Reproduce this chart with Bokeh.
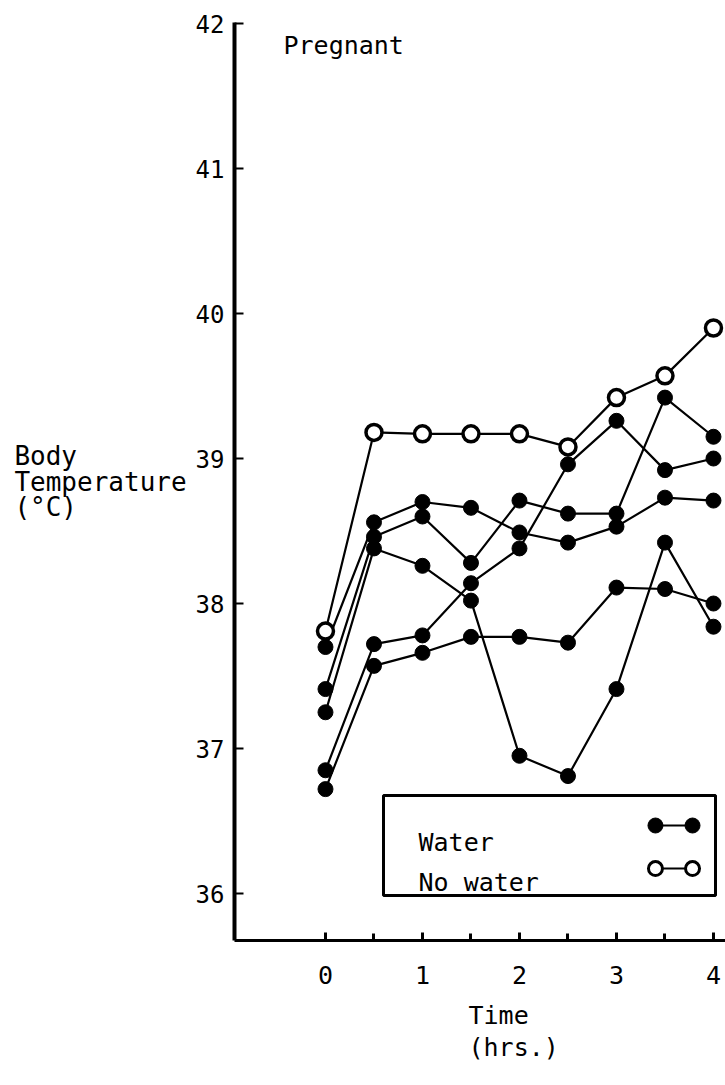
from bokeh.plotting import figure
from bokeh.models import Label, BoxAnnotation, FixedTicker, Title
from bokeh.embed import file_html
from bokeh.resources import INLINE

# ---- data ----
hours = [0, 0.5, 1, 1.5, 2, 2.5, 3, 3.5, 4]
water_a = [37.70, 38.56, 38.70, 38.66, 38.49, 38.42, 38.53, 38.73, 38.71]
water_b = [37.41, 38.46, 38.60, 38.28, 38.71, 38.62, 38.62, 39.42, 39.15]
water_c = [37.25, 38.38, 38.26, 38.02, 36.95, 36.81, 37.41, 38.42, 37.84]
water_d = [36.85, 37.72, 37.78, 38.14, 38.38, 38.96, 39.26, 38.92, 39.00]
water_e = [36.72, 37.57, 37.66, 37.77, 37.77, 37.73, 38.11, 38.10, 38.00]
no_water = [37.81, 39.18, 39.17, 39.17, 39.17, 39.08, 39.42, 39.57, 39.90]

y_ticks = [36, 37, 38, 39, 40, 41, 42]
x_major_ticks = [0, 1, 2, 3, 4]
x_minor_ticks = [0.5, 1.5, 2.5, 3.5]

title_text = "Pregnant"
y_label_lines = ["Body", "Temperature", "(°C)"]
x_label_lines = ["Time", "(hrs.)"]
legend_labels = ["Water", "No water"]

FONT = "DejaVu Sans Mono"

# left-align the lines of the (right-anchored) horizontal axis label by
# padding them with no-break spaces (monospaced font)
_w = max(len(s) for s in y_label_lines)
y_label_text = "\n".join(s + "\u00a0" * (_w - len(s)) for s in y_label_lines)

p = figure(width=725, height=1085, output_backend="svg", toolbar_location=None,
           x_range=(-0.938, 4.124), y_range=(35.676, 42.007),
           min_border_left=234, min_border_right=0, min_border_top=22,
           min_border_bottom=145)
p.outline_line_color = None
p.grid.visible = False
p.background_fill_color = "white"

# axes
p.yaxis.ticker = FixedTicker(ticks=y_ticks)
p.yaxis.axis_line_width = 4
p.yaxis.major_tick_in = 9
p.yaxis.major_tick_out = 0
p.yaxis.major_tick_line_width = 2
p.yaxis.minor_tick_line_color = None
p.yaxis.major_label_standoff = 10
p.yaxis.major_label_text_font = FONT
p.yaxis.major_label_text_font_size = "24px"
p.yaxis.major_label_text_color = "black"
p.yaxis.axis_label = y_label_text
p.yaxis.axis_label_orientation = "horizontal"
p.yaxis.axis_label_text_font = FONT
p.yaxis.axis_label_text_font_size = "26px"
p.yaxis.axis_label_text_font_style = "normal"
p.yaxis.axis_label_text_line_height = 0.85
p.yaxis.axis_label_text_color = "black"
p.yaxis.axis_label_standoff = 6

p.xaxis.ticker = FixedTicker(ticks=x_major_ticks, minor_ticks=x_minor_ticks)
p.xaxis.axis_line_width = 3
p.xaxis.major_tick_in = 8
p.xaxis.major_tick_out = 0
p.xaxis.major_tick_line_width = 3
p.xaxis.minor_tick_in = 7
p.xaxis.minor_tick_out = 0
p.xaxis.minor_tick_line_width = 3
p.xaxis.minor_tick_line_color = "black"
p.xaxis.major_label_standoff = 25
p.xaxis.major_label_text_font = FONT
p.xaxis.major_label_text_font_size = "25px"
p.xaxis.major_label_text_color = "black"

# x label: one two-line title below the axis, left aligned
p.add_layout(Title(text="\n".join(x_label_lines), align="left", offset=234,
                   vertical_align="top",
                   text_font=FONT, text_font_size="25px",
                   text_font_style="normal", text_color="black",
                   text_line_height=1.1, standoff=29), "below")

# series lines
for series in [water_a, water_b, water_c, water_d, water_e]:
    p.line(hours, series, line_color="black", line_width=2.2)
p.line(hours, no_water, line_color="black", line_width=2.2)

# markers
for series in [water_a, water_b, water_c, water_d, water_e]:
    p.scatter(hours, series, size=15, marker="circle", fill_color="black",
              line_color="black")
p.scatter(hours, no_water, size=16, marker="circle", fill_color="white",
          line_color="black", line_width=3.5)

# title
p.add_layout(Label(x=-0.433, y=41.848, text=title_text, text_font=FONT,
                   text_font_size="25px", text_color="black",
                   text_baseline="alphabetic", text_align="left"))

# legend (label at left, sample at right as in the reference)
box = BoxAnnotation(left=0.598, right=4.021, top=36.676, bottom=35.986,
                    fill_color="white", fill_alpha=1.0, line_color="black",
                    line_alpha=1.0, line_width=3, level="underlay")
p.add_layout(box)
legend_text_y = [36.352, 36.076]
for txt, yy in zip(legend_labels, legend_text_y):
    p.add_layout(Label(x=0.959, y=yy, text=txt, text_font=FONT,
                       text_font_size="25px", text_color="black",
                       text_baseline="alphabetic", text_align="left"))
sample_x = [3.402, 3.784]
p.line(sample_x, [36.469, 36.469], line_color="black", line_width=2)
p.scatter(sample_x, [36.469, 36.469], size=15, marker="circle",
          fill_color="black", line_color="black")
p.line(sample_x, [36.172, 36.172], line_color="black", line_width=2)
p.scatter(sample_x, [36.172, 36.172], size=14, marker="circle",
          fill_color="white", line_color="black", line_width=3)

open("out.html", "w").write(file_html(p, INLINE))
